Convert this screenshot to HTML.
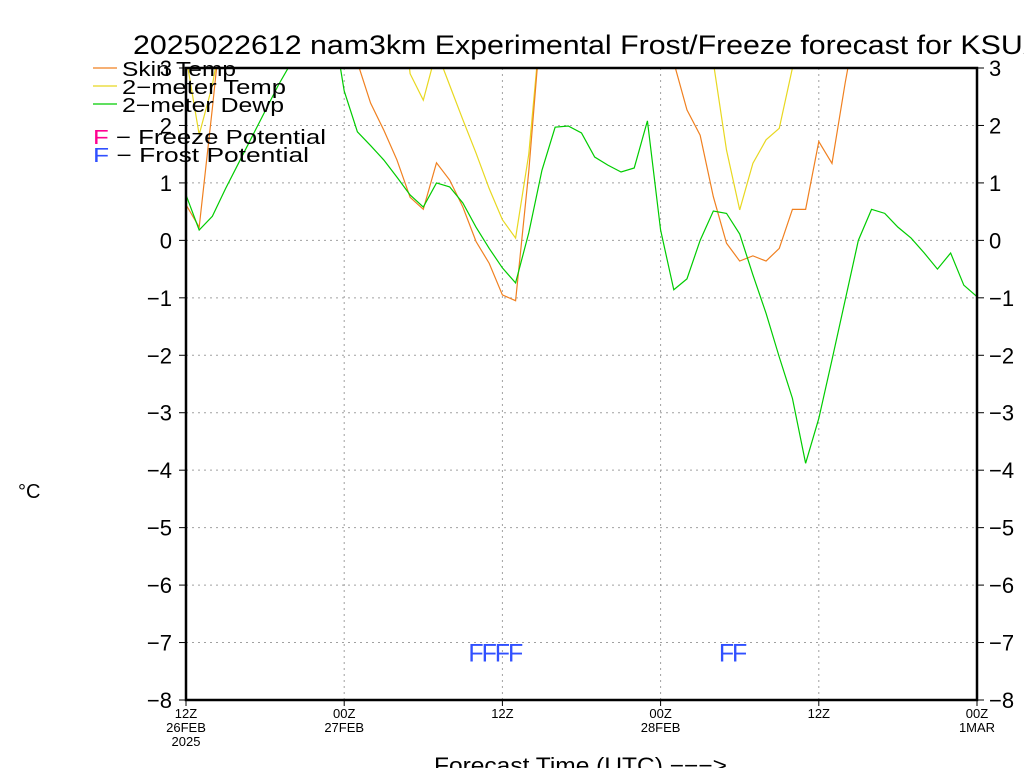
<!DOCTYPE html>
<html><head><meta charset="utf-8"><style>
body{margin:0;background:#fff;}
svg{display:block;font-family:"Liberation Sans",sans-serif;}
</style></head><body>
<svg id="chart" width="1024" height="768" viewBox="0 0 1024 768" xmlns="http://www.w3.org/2000/svg">
<rect width="1024" height="768" fill="#fff"/>
<text x="133" y="54" font-size="27" fill="#000" textLength="910" lengthAdjust="spacingAndGlyphs">2025022612 nam3km Experimental Frost/Freeze forecast for KSUX</text>
<defs><clipPath id="plotclip"><rect x="186" y="68" width="791" height="632"/></clipPath></defs>
<g id="grid"></g>
<g id="series" clip-path="url(#plotclip)"></g>
<g id="axes"></g>
<g id="legend">
<line x1="93" y1="68" x2="117" y2="68" stroke="#f08020" stroke-width="1.2"/>
<text x="122" y="76" font-size="20" textLength="114" lengthAdjust="spacingAndGlyphs">Skin Temp</text>
<line x1="93" y1="86" x2="117" y2="86" stroke="#e8d820" stroke-width="1.2"/>
<text x="122" y="94" font-size="20" textLength="164" lengthAdjust="spacingAndGlyphs">2−meter Temp</text>
<line x1="93" y1="104" x2="117" y2="104" stroke="#00cc00" stroke-width="1.2"/>
<text x="122" y="112" font-size="20" textLength="162" lengthAdjust="spacingAndGlyphs">2−meter Dewp</text>
<text x="93" y="144" font-size="20" textLength="233" lengthAdjust="spacingAndGlyphs"><tspan fill="#ff0090">F</tspan>  −  Freeze Potential</text>
<text x="93" y="162" font-size="20" textLength="216" lengthAdjust="spacingAndGlyphs"><tspan fill="#3050ff">F</tspan>  −  Frost Potential</text>
</g>
<text x="18" y="498" font-size="20">°C</text>
<text x="434" y="773" font-size="22" textLength="293" lengthAdjust="spacingAndGlyphs">Forecast Time (UTC) −−−&gt;</text>
</svg>
<script>
const yTicks = [3,2,1,0,-1,-2,-3,-4,-5,-6,-7,-8];
const xTickHours = [0,12,24,36,48,60];
const xTickLabels = [["12Z","26FEB","2025"],["00Z","27FEB"],["12Z"],["00Z","28FEB"],["12Z"],["00Z","1MAR"]];
const skinTemp = [0.62,0.23,2.3,4.5,5,5,5,5,5,5,5,5,5,3.1,2.39,1.92,1.40,0.75,0.54,1.35,1.05,0.58,-0.02,-0.4,-0.95,-1.05,1.2,4,5,5,5,5,5,5,5,5,5,3.1,2.27,1.83,0.76,-0.05,-0.36,-0.27,-0.36,-0.14,0.54,0.54,1.72,1.34,2.74,4,5,5,5,5,5,5,5,5,5];
const temp2m = [3.2,1.84,2.7,4,5,5,5,5,5,5,5,5,5,5,5,5,5,2.9,2.44,3.3,2.7,2.1,1.52,0.9,0.36,0.04,1.5,4,5,5,5,5,5,5,5,5,5,5,5,5,3.1,1.57,0.53,1.34,1.75,1.95,3.0,4,5,5,5,5,5,5,5,5,5,5,5,5,5];
const dewp2m = [0.79,0.18,0.42,0.9,1.35,1.8,2.25,2.7,3.1,4,4,4,2.6,1.89,1.65,1.40,1.10,0.79,0.58,1.0,0.93,0.65,0.23,-0.14,-0.48,-0.74,0.13,1.22,1.97,1.99,1.87,1.45,1.31,1.19,1.26,2.08,0.18,-0.86,-0.67,0.0,0.51,0.47,0.11,-0.6,-1.27,-2.03,-2.75,-3.88,-3.1,-2.08,-1.04,0.0,0.54,0.47,0.23,0.04,-0.22,-0.5,-0.22,-0.78,-0.98];
const frostHours = [22,23,24,25,41,42];
const freezeHours = [];
const X0=186,X1=977,Y0=68,Y1=700,YMAX=3,YMIN=-8,HMAX=60;
const xs=h=>X0+(X1-X0)*h/HMAX;
const ys=v=>Y0+(Y1-Y0)*(YMAX-v)/(YMAX-YMIN);
const NS="http://www.w3.org/2000/svg";
function mk(tag,attrs,parent){const e=document.createElementNS(NS,tag);for(const k in attrs)e.setAttribute(k,attrs[k]);parent.appendChild(e);return e;}
const grid=document.getElementById('grid'),series=document.getElementById('series'),axes=document.getElementById('axes');
yTicks.forEach(v=>{
  if(v>YMIN&&v<YMAX){const g=mk('line',{x1:X0,x2:X1,y1:ys(v),y2:ys(v),stroke:'#a0a0a0','stroke-dasharray':'2,4'},grid);
  
  }
  const t1=mk('line',{x1:X0-7,x2:X0,y1:ys(v),y2:ys(v),stroke:'#000'},axes);
  
  
  const t2=mk('line',{x1:X1,x2:X1+7,y1:ys(v),y2:ys(v),stroke:'#000'},axes);
  
  
  const l=mk('text',{x:172,y:ys(v)+8,'font-size':22,'text-anchor':'end'},axes);l.textContent=(v<0?'−'+(-v):v);
  
  
  const r=mk('text',{x:989,y:ys(v)+8,'font-size':22},axes);r.textContent=(v<0?'−'+(-v):v);
  
  
});
xTickHours.forEach((h,i)=>{
  if(h>0&&h<HMAX){const g=mk('line',{x1:xs(h),x2:xs(h),y1:Y0,y2:Y1,stroke:'#a0a0a0','stroke-dasharray':'2,4'},grid);
  
  }
  const t=mk('line',{x1:xs(h),x2:xs(h),y1:Y1,y2:Y1+6,stroke:'#000'},axes);
  
  
  xTickLabels[i].forEach((s,j)=>{const l=mk('text',{x:xs(h),y:Y1+18+j*14,'font-size':13,'text-anchor':'middle'},axes);l.textContent=s;
  
  });
});
const fr=mk('rect',{x:X0,y:Y0,width:X1-X0,height:Y1-Y0,fill:'none',stroke:'#000','stroke-width':2.5},axes);


function line(data,color,name){
  const p=mk('polyline',{points:data.map((v,h)=>xs(h)+','+ys(v)).join(' '),fill:'none',stroke:color,'stroke-width':1.2},series);
  
  
}
line(temp2m,'#e8d820','series-2m-temp');
line(skinTemp,'#f08020','series-skin-temp');
line(dewp2m,'#00cc00','series-2m-dewp');
frostHours.forEach(h=>{const t=mk('text',{x:xs(h),y:ys(-7)+19,'font-size':25,'text-anchor':'middle',fill:'#3050ff'},axes);t.textContent='F';
  
  });
freezeHours.forEach(h=>{const t=mk('text',{x:xs(h),y:ys(-7)+19,'font-size':25,'text-anchor':'middle',fill:'#ff0090'},axes);t.textContent='F';
  
  });
</script>
</body></html>
